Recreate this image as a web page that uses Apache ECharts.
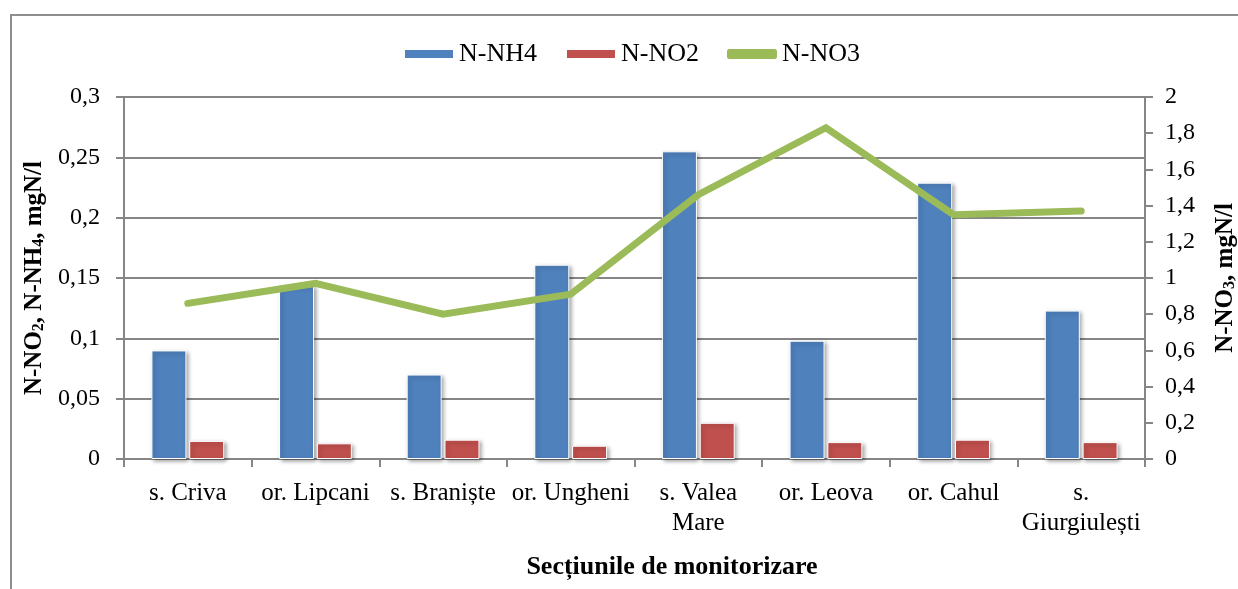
<!DOCTYPE html>
<html><head><meta charset="utf-8">
<script src="https://cdn.jsdelivr.net/npm/echarts@6/dist/echarts.min.js"></script>
<style>html,body{margin:0;padding:0;background:#fff}#c{width:1238px;height:589px}</style>
</head><body><div id="c"></div>
<script>
const categories = ['s. Criva','or. Lipcani','s. Braniște','or. Ungheni','s. Valea\nMare','or. Leova','or. Cahul','s.\nGiurgiulești'];
const nh4 = [0.090, 0.144, 0.070, 0.161, 0.255, 0.098, 0.229, 0.123];
const no2 = [0.015, 0.013, 0.016, 0.011, 0.030, 0.014, 0.016, 0.014];
const no3 = [0.86, 0.97, 0.80, 0.91, 1.46, 1.83, 1.35, 1.37];
const leftTicks = {min: 0, max: 0.3, interval: 0.05};
const rightTicks = {min: 0, max: 2, interval: 0.2};

const FF = "'Liberation Serif','Times New Roman',serif";
const GRAY = '#868686';
const fmt = v => String(+v.toFixed(2)).replace('.', ',');
const chart = echarts.init(document.getElementById('c'), null, {renderer: 'canvas'});
const barShadow = {shadowBlur: 4, shadowColor: 'rgba(0,0,0,0.35)', shadowOffsetX: 2, shadowOffsetY: 2, borderColor: '#fff', borderWidth: 1};
const nameRich = {b: {fontFamily: FF, fontSize: 25, fontWeight: 'bold', color: '#000'},
                  s: {fontFamily: FF, fontSize: 16, fontWeight: 'bold', color: '#000', verticalAlign: 'bottom'}};
chart.setOption({
  animation: false,
  textStyle: {fontFamily: FF, color: '#000'},
  graphic: [{type: 'rect', shape: {x: 11, y: 15, width: 1300, height: 700}, style: {fill: 'none', stroke: '#8e8e8e', lineWidth: 2}, silent: true}],
  title: {text: 'Secțiunile de monitorizare', left: 667, top: 549, textAlign: 'center',
    textStyle: {fontFamily: FF, fontSize: 26, fontWeight: 'bold', color: '#000'}},
  legend: {top: 36, left: 398, itemWidth: 50, itemHeight: 10, itemGap: 28,
    textStyle: {fontFamily: FF, fontSize: 26, color: '#000'},
    data: [{name: 'N-NH4', icon: 'rect'}, {name: 'N-NO2', icon: 'rect'}, {name: 'N-NO3', icon: 'roundRect', itemStyle: {color: '#9BBB59'}}]},
  grid: {left: 124, right: 93, top: 97, bottom: 130, outerBoundsMode: 'none', containLabel: false},
  xAxis: {type: 'category', data: categories, boundaryGap: true,
    axisLine: {lineStyle: {color: GRAY, width: 2}},
    axisTick: {show: true, length: 8, lineStyle: {color: GRAY, width: 2}},
    axisLabel: {fontFamily: FF, fontSize: 25, color: '#000', lineHeight: 30, margin: 19, interval: 0}},
  yAxis: [{type: 'value', min: leftTicks.min, max: leftTicks.max, interval: leftTicks.interval, position: 'left',
      name: '{b|N-NO}{s|2}{b|, N-NH}{s|4}{b|, mgN/l}', nameLocation: 'middle', nameGap: 63, nameRotate: 90,
      nameTextStyle: {rich: nameRich},
      axisLine: {show: true, lineStyle: {color: GRAY, width: 2}},
      axisTick: {show: true, length: 8, lineStyle: {color: GRAY, width: 2}},
      splitLine: {lineStyle: {color: GRAY, width: 2}},
      axisLabel: {fontFamily: FF, fontSize: 24, color: '#000', margin: 24, formatter: fmt}},
    {type: 'value', min: rightTicks.min, max: rightTicks.max, interval: rightTicks.interval, position: 'right',
      name: '{b|N-NO}{s|3}{b|, mgN/l}', nameLocation: 'middle', nameGap: 68, nameRotate: 90,
      nameTextStyle: {rich: nameRich},
      axisLine: {show: true, lineStyle: {color: GRAY, width: 2}},
      axisTick: {show: true, length: 8, lineStyle: {color: GRAY, width: 2}},
      splitLine: {show: false},
      axisLabel: {fontFamily: FF, fontSize: 24, color: '#000', margin: 20, formatter: fmt}}],
  series: [
    {name: 'N-NH4', type: 'bar', yAxisIndex: 0, data: nh4, barWidth: 35, barGap: '8%',
      itemStyle: Object.assign({color: '#4F81BD'}, barShadow)},
    {name: 'N-NO2', type: 'bar', yAxisIndex: 0, data: no2, barWidth: 35,
      itemStyle: Object.assign({color: '#C0504D'}, barShadow)},
    {name: 'N-NO3', type: 'line', yAxisIndex: 1, data: no3, symbol: 'none', z: 5,
      lineStyle: {color: '#9BBB59', width: 7, cap: 'round', join: 'miter'}, itemStyle: {color: '#9BBB59'}}
  ]
});
</script></body></html>
